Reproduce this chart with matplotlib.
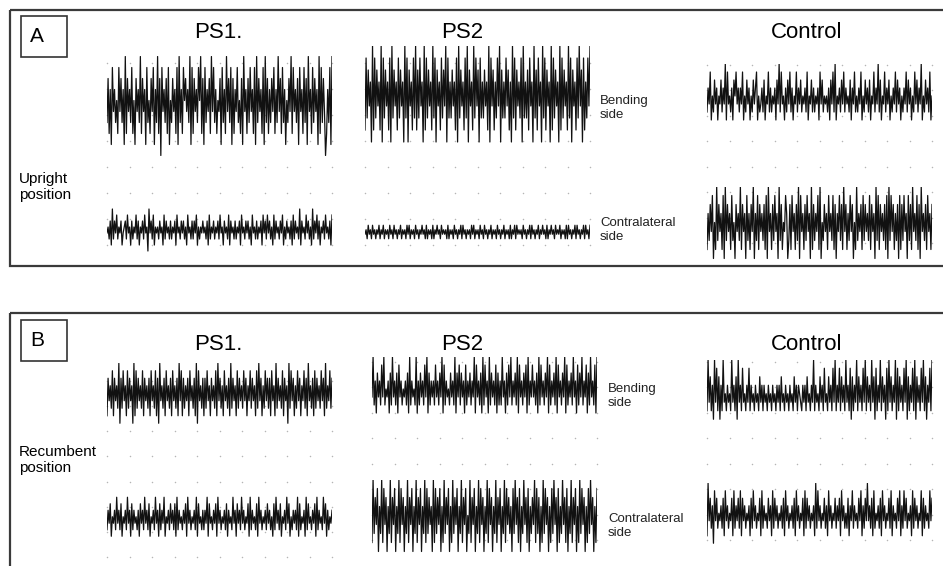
import matplotlib.pyplot as plt
import numpy as np
from matplotlib.patches import Rectangle

W, H = 943, 566

plt.rcParams['font.family'] = ['Liberation Sans', 'DejaVu Sans']

# EMG samples, one digit per sample
# (0 = deepest downward deflection, 9 = highest upward deflection)
A_PS1_BEND = ("372618463528473619274638251746"
              "392746183527481639270846372815"
              "374628193628574639182746385927"
              "183647294836254718362947381726"
              "483527194627384628193746281937"
              "263748263947283615374928463718"
              "462837194628374619283740263819")
A_PS1_CONTRA = ("453628364735462456374526354736"
                "254637451846372545364527364536"
                "354627453646352745363647253546"
                "453627354635463745264537264536"
                "354627453646352745363546274637"
                "463527364536472536453627364538"
                "264537463528364736254637453627")
A_PS2_BEND = ("283746192837462918374628193746"
              "283746193817462839273846192837"
              "462938174628374918363746281937"
              "462839174629384718363746291847"
              "263849173638472619382746381936"
              "372846193728461938274619283746"
              "192837462938174628394718263849")
A_PS2_CONTRA = ("453645364535463546354536453645"
                "354635453646354536453546453635"
                "453635464536454536354536453546"
                "364535453646354536453645354635"
                "453645354635453635463645453645"
                "354636453546354645363546453645"
                "463545363645354636453546364536")
A_CTRL_BEND = ("364825374625473649284536275846"
               "364825374625374682534637254836"
               "354627493845263748362548364735"
               "463825473635462847354536274839"
               "254637483645372648353648253746"
               "372548364937254836472536483746"
               "253648374625384736492537463825")
A_CTRL_CONTRA = ("263748152937462819374628351746"
                 "392746183627491638274637281946"
                 "273846193725486137284627391846"
                 "273846192736482915374628463827"
                 "164837294726384715293647283746"
                 "382746193827463728193847263718"
                 "273846183729463827194637284627")
B_PS1_BEND = ("274638274639173846283746192837"
              "463827463728463827194637284637"
              "284637294827364728463729184637"
              "273846274638294736284637293746"
              "283746384726483746283947263847"
              "372846293746382746193847263847"
              "264837294637283746384729364837")
B_PS1_CONTRA = ("364725463846372546384627364536"
                "274638463725463846273648254637"
                "463728364536472846354638274536"
                "364827453647284635463726453846"
                "274638463547283645372846354637"
                "463527384637254638472536463827"
                "354628374536472836453847263546")
B_PS2_BEND = ("493627463849354627394637284635"
              "463729364539263746384927364638"
              "463749283645374639274837462836"
              "473649284637293846293746382736"
              "394627384936473928463748293648"
              "463729384637492836473928463749"
              "283647394628374936482739463829")
B_PS2_CONTRA = ("293748163928471639274816392847"
                "163927481639274816392837461928"
                "374816293748162937481639274815"
                "392748163928471639284716392748"
                "163928473618394728163947281637"
                "492837162938471628394718263947"
                "281639274816293847162839471628")
B_CTRL_BEND = ("394736294837263945364539463729"
               "463845364836453645374636453645"
               "364536463745364536453746365436"
               "463745364936453746384537463849"
               "364837463946382736493746384937"
               "463947283649374628394736492837"
               "463849273648392746384937264839")
B_CTRL_CONTRA = ("294736184735463728463547283647"
                 "382746354627384635472836453746"
                 "283746354637284635463728463547"
                 "283746354629384635473628463547"
                 "364728463537264836453748263749"
                 "463728354637284635473826453748"
                 "263847354628374635482736453847")

COLUMNS = ["PS1.", "PS2", "Control"]
PANELS = ["A", "B"]
ROW_LABELS = ["Upright\nposition", "Recumbent\nposition"]
SIDE_LABELS = ["Bending\nside", "Contralateral\nside"]

# (samples, x0, x1, centre y, px per sample unit) in pixels
TRACES = [
    (A_PS1_BEND, 107, 332, 106, 11),
    (A_PS1_CONTRA, 107, 332, 230, 6),
    (A_PS2_BEND, 365, 590, 100, 12),
    (A_PS2_CONTRA, 365, 590, 232, 4.5),
    (A_CTRL_BEND, 707, 932, 100, 8),
    (A_CTRL_CONTRA, 707, 932, 227, 9),
    (B_PS1_BEND, 107, 332, 397, 7.5),
    (B_PS1_CONTRA, 107, 332, 520, 6.5),
    (B_PS2_BEND, 372, 597, 393, 8),
    (B_PS2_CONTRA, 372, 597, 520, 9),
    (B_CTRL_BEND, 707, 932, 398, 8.5),
    (B_CTRL_CONTRA, 707, 932, 517, 7.5),
]

# dotted grids behind traces: x0, x1, first row y, last row y, rows
GRIDS = [
    (107, 332, 63, 245, 8), (365, 590, 63, 245, 8), (707, 932, 65, 243, 8),
    (107, 332, 381, 557, 8), (372, 597, 362, 540, 8), (707, 932, 362, 540, 8),
]


def px_axes(fig, x0, y0, x1, y1):
    ax = fig.add_axes([x0 / W, 1 - y1 / H, (x1 - x0) / W, (y1 - y0) / H])
    ax.axis('off')
    ax.patch.set_alpha(0)
    return ax


fig = plt.figure(figsize=(W / 100, H / 100), dpi=100)
bg = fig.add_axes([0, 0, 1, 1])
bg.set_xlim(0, W)
bg.set_ylim(H, 0)
bg.axis('off')

# panel frames and letter boxes
for top, bottom in [(10, 266), (313, 600)]:
    bg.add_patch(Rectangle((10, top), 940, bottom - top, fill=False,
                           lw=1.6, ec='#3a3a3a'))
for letter, letter_top in zip(PANELS, [16, 320]):
    bg.add_patch(Rectangle((21, letter_top), 46, 41, fill=False,
                           lw=1.2, ec='#333333'))
    bg.text(30, letter_top + 21, letter, fontsize=15, va='center', ha='left')

for title_y in [33, 344]:
    for name, cx in zip(COLUMNS, [218, 462, 807]):
        bg.text(cx, title_y, name, fontsize=16, ha='center', va='center')

bg.text(19, 187, ROW_LABELS[0], fontsize=11, va='center', linespacing=1.1)
bg.text(19, 460, ROW_LABELS[1], fontsize=11, va='center', linespacing=1.1)

for x, y, lab in [(600, 108, SIDE_LABELS[0]), (600, 230, SIDE_LABELS[1]),
                  (608, 396, SIDE_LABELS[0]), (608, 526, SIDE_LABELS[1])]:
    bg.text(x, y, lab, fontsize=9.5, va='center', linespacing=1.3,
            color='#222222')

for x0, x1, y0, y1, nrows in GRIDS:
    ax = px_axes(fig, x0, y0, x1, y1)
    gx, gy = np.meshgrid(np.arange(11), np.arange(nrows))
    ax.scatter(gx.ravel(), gy.ravel(), s=1.2, c='#b5b5b5', lw=0,
               clip_on=False)
    ax.set_xlim(0, 10)
    ax.set_ylim(nrows - 1, 0)

for samples, x0, x1, cy, scale in TRACES:
    vals = np.array([int(c) for c in samples])
    ax = px_axes(fig, x0, cy - 4.5 * scale, x1, cy + 4.5 * scale)
    ax.plot(np.arange(len(vals)), vals, color='#111111', lw=0.9)
    ax.set_xlim(0, len(vals) - 1)
    ax.set_ylim(0, 9)

fig.savefig("out.png", dpi=100)
